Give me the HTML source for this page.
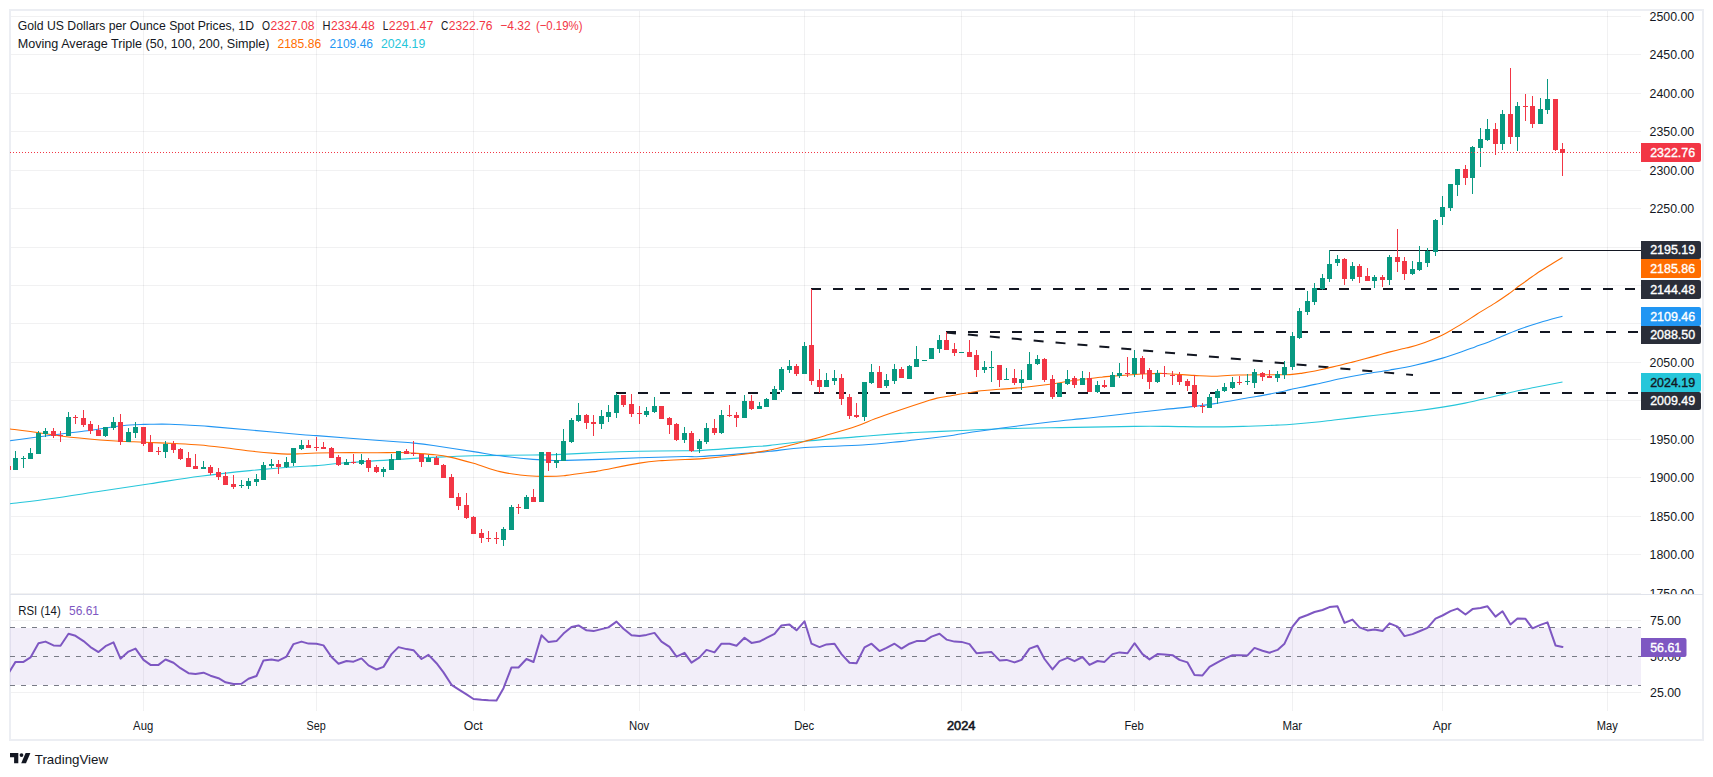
<!DOCTYPE html>
<html><head><meta charset="utf-8"><title>Gold chart</title>
<style>html,body{margin:0;padding:0;background:#fff}svg{display:block}</style></head>
<body>
<svg width="1713" height="777" viewBox="0 0 1713 777" font-family='"Liberation Sans", sans-serif'>
<rect width="1713" height="777" fill="#fff"/>
<rect x="10" y="10" width="1693" height="730" fill="none" stroke="#eceef3" stroke-width="2" shape-rendering="crispEdges"/>
<defs>
<clipPath id="cm"><rect x="10" y="10" width="1631" height="584"/></clipPath>
<clipPath id="cr"><rect x="10" y="595" width="1631" height="116"/></clipPath>
<clipPath id="ca"><rect x="1641" y="10" width="62" height="584"/></clipPath>
</defs>
<path d="M143.5 11V711M316.5 11V711M473.5 11V711M639.5 11V711M804.5 11V711M961.5 11V711M1134.5 11V711M1292.5 11V711M1442.5 11V711M1607.5 11V711" stroke="#2a2e39" stroke-opacity="0.065" stroke-width="1" fill="none" shape-rendering="crispEdges"/>
<path d="M11 16.5H1641M11 54.5H1641M11 93.5H1641M11 131.5H1641M11 170.5H1641M11 208.5H1641M11 247.5H1641M11 285.5H1641M11 323.5H1641M11 362.5H1641M11 400.5H1641M11 439.5H1641M11 477.5H1641M11 516.5H1641M11 554.5H1641M11 593.5H1641M11 620.5H1641M11 692.5H1641" stroke="#2a2e39" stroke-opacity="0.065" stroke-width="1" fill="none" shape-rendering="crispEdges"/>
<rect x="10" y="628" width="1631" height="57" fill="#7e57c2" fill-opacity="0.1"/>
<path d="M10.0 627.5H1641" stroke="#787b86" stroke-width="1" stroke-dasharray="5 6" stroke-dashoffset="0" fill="none"/>
<path d="M10.0 656.5H1641" stroke="#787b86" stroke-width="1" stroke-dasharray="5 6" stroke-dashoffset="0" fill="none"/>
<path d="M10.0 685.5H1641" stroke="#787b86" stroke-width="1" stroke-dasharray="5 6" stroke-dashoffset="0" fill="none"/>
<polyline clip-path="url(#cr)" points="8.5,673.2 15.5,661.9 23.5,661.9 30.5,657.4 38.5,643.2 45.5,641.6 53.5,645.4 60.5,645.7 68.5,633.8 75.5,635.8 83.5,641.1 90.5,647.1 98.5,652.1 105.5,646.2 113.5,642.4 120.5,658.7 128.5,651.6 135.5,648.6 143.5,659.9 150.5,664.9 158.5,664.9 165.5,659.5 173.5,662.7 180.5,668.2 188.5,673.2 195.5,674.0 203.5,672.7 210.5,675.7 218.5,678.2 225.5,682.3 233.5,684.0 241.5,683.7 248.5,678.7 256.5,676.0 263.5,660.4 271.5,659.4 278.5,660.7 286.5,656.6 293.5,644.1 301.5,641.6 308.5,643.6 316.5,643.7 323.5,645.4 331.5,657.0 338.5,663.7 346.5,661.0 353.5,661.7 361.5,658.4 368.5,665.4 376.5,669.5 383.5,666.9 391.5,654.1 398.5,647.1 406.5,649.1 413.5,650.2 421.5,659.0 428.5,654.9 436.5,663.2 443.5,672.4 451.5,684.8 458.5,689.3 466.5,694.3 473.5,699.0 481.5,699.8 488.5,700.3 496.5,700.5 503.5,688.2 511.5,667.4 518.5,667.5 526.5,659.0 533.5,662.0 541.5,635.3 548.5,642.1 556.5,641.1 563.5,633.6 571.5,626.9 578.5,625.4 586.5,630.3 593.5,631.1 601.5,629.1 608.5,627.4 616.5,621.6 623.5,628.8 631.5,635.3 639.5,636.1 646.5,634.9 654.5,632.9 661.5,641.6 669.5,646.9 676.5,656.6 684.5,652.9 691.5,662.7 699.5,657.4 706.5,649.9 714.5,652.4 721.5,643.7 729.5,643.7 736.5,645.7 744.5,637.7 751.5,642.9 759.5,641.6 766.5,637.9 774.5,633.8 781.5,625.4 789.5,624.6 796.5,630.3 804.5,621.3 811.5,643.7 819.5,647.1 826.5,644.4 834.5,643.7 841.5,654.1 849.5,662.7 856.5,663.2 864.5,647.4 871.5,643.7 879.5,651.1 886.5,647.9 894.5,643.7 901.5,648.6 909.5,643.7 916.5,641.1 924.5,641.1 931.5,636.6 939.5,633.8 946.5,639.6 954.5,641.6 961.5,641.9 969.5,644.1 976.5,653.2 984.5,652.4 991.5,652.1 999.5,660.4 1006.5,659.9 1014.5,662.4 1021.5,659.9 1029.5,648.6 1037.5,645.7 1044.5,659.0 1052.5,669.4 1059.5,661.2 1067.5,657.9 1074.5,661.2 1082.5,657.0 1089.5,664.9 1097.5,661.0 1104.5,661.9 1112.5,654.1 1119.5,652.4 1127.5,653.2 1134.5,643.2 1142.5,654.1 1149.5,659.4 1157.5,654.1 1164.5,654.4 1172.5,655.2 1179.5,659.9 1187.5,662.4 1194.5,674.9 1202.5,675.4 1209.5,666.9 1217.5,662.4 1224.5,658.7 1232.5,655.2 1239.5,655.2 1247.5,655.4 1254.5,647.9 1262.5,650.7 1269.5,652.7 1277.5,649.9 1284.5,643.7 1292.5,626.6 1299.5,618.0 1307.5,615.0 1314.5,612.0 1322.5,610.0 1329.5,607.1 1337.5,606.3 1344.5,622.9 1352.5,619.6 1359.5,627.4 1367.5,630.4 1374.5,629.4 1382.5,631.1 1389.5,623.3 1397.5,626.6 1404.5,636.1 1412.5,634.1 1419.5,631.3 1427.5,627.9 1435.5,618.6 1442.5,615.5 1450.5,611.1 1457.5,608.6 1465.5,614.5 1472.5,609.1 1480.5,608.0 1487.5,606.3 1495.5,616.6 1502.5,611.3 1510.5,624.4 1517.5,618.6 1525.5,618.8 1532.5,628.3 1540.5,624.9 1547.5,622.4 1555.5,645.4 1562.5,646.9" fill="none" stroke="#7e57c2" stroke-width="2" stroke-linejoin="round" stroke-linecap="round"/>
<g clip-path="url(#cm)">
<path d="M616 393H1641" stroke="#131722" stroke-width="2" stroke-dasharray="10 12" fill="none"/>
<path d="M811 289H1641" stroke="#131722" stroke-width="2" stroke-dasharray="10 12" fill="none"/>
<path d="M946 332H1641" stroke="#131722" stroke-width="2" stroke-dasharray="10 12" fill="none"/>
<path d="M946 332.5L1413 375" stroke="#131722" stroke-width="2" stroke-dasharray="10 12" fill="none"/>
<path d="M1328.5 250.5H1641" stroke="#131722" stroke-width="1" fill="none" shape-rendering="crispEdges"/>
<path d="M10.0 503.8C16.7 502.92 35.0 500.83 50.0 498.75C65.0 496.67 83.3 493.75 100.0 491.25C116.7 488.75 133.3 486.25 150.0 483.75C166.7 481.25 183.3 478.44 200.0 476.25C216.7 474.06 233.3 472.23 250.0 470.60C266.7 468.98 288.9 467.33 300.0 466.50C311.1 465.67 308.2 466.27 316.5 465.60C324.8 464.93 336.1 463.55 350.0 462.50C363.9 461.45 386.2 460.15 400.0 459.30C413.8 458.45 420.8 457.98 433.0 457.40C445.2 456.82 456.8 456.20 473.5 455.80C490.2 455.40 519.2 455.20 533.0 455.00C546.8 454.80 544.8 455.02 556.0 454.60C567.2 454.18 586.1 453.05 600.0 452.50C613.9 451.95 625.3 451.60 639.5 451.30C653.7 451.00 674.9 450.82 685.0 450.70C695.1 450.58 689.2 451.23 700.0 450.60C710.8 449.97 738.3 447.77 750.0 446.90C761.7 446.03 760.8 446.34 770.0 445.40C779.2 444.46 790.7 442.67 805.0 441.25C819.3 439.83 840.2 438.21 856.0 436.90C871.8 435.59 890.3 434.13 900.0 433.40C909.7 432.67 903.7 432.98 914.0 432.50C924.3 432.02 947.4 431.12 961.8 430.50C976.1 429.88 985.3 429.25 1000.0 428.80C1014.7 428.35 1037.5 428.03 1050.0 427.80C1062.5 427.57 1060.9 427.63 1075.0 427.40C1089.1 427.17 1119.0 426.57 1134.5 426.40C1150.0 426.23 1156.2 426.32 1168.0 426.40C1179.8 426.48 1192.5 426.90 1205.0 426.90C1217.5 426.90 1231.1 426.70 1243.0 426.40C1254.9 426.10 1268.3 425.47 1276.5 425.10C1284.7 424.73 1285.2 424.76 1292.4 424.20C1299.7 423.64 1313.1 422.45 1320.0 421.75C1326.9 421.05 1327.1 420.81 1334.0 420.00C1340.9 419.19 1351.9 417.94 1361.2 416.90C1370.6 415.86 1381.0 414.73 1390.0 413.75C1399.0 412.77 1406.2 412.11 1415.0 411.00C1423.8 409.89 1434.2 408.42 1442.5 407.10C1450.8 405.78 1457.1 404.70 1465.0 403.10C1472.9 401.50 1483.5 399.00 1490.0 397.50C1496.5 396.00 1499.4 395.23 1504.0 394.10C1508.6 392.98 1512.8 391.85 1517.8 390.75C1522.8 389.65 1526.5 388.96 1534.0 387.50C1541.5 386.04 1557.8 382.92 1562.5 382.00" fill="none" stroke="#26c6da" stroke-width="1.1" stroke-linejoin="round"/>
<path d="M10.0 440.8C14.6 440.17 28.8 438.18 37.5 437.00C46.2 435.82 54.2 434.79 62.5 433.75C70.8 432.71 79.2 431.88 87.5 430.75C95.8 429.62 105.4 427.96 112.5 427.00C119.6 426.04 124.8 425.43 130.0 425.00C135.2 424.57 140.2 424.52 143.5 424.40C146.8 424.27 145.6 424.27 150.0 424.25C154.4 424.23 161.7 423.99 170.0 424.25C178.3 424.51 192.7 425.36 200.0 425.80C207.3 426.24 205.7 426.20 214.0 426.90C222.3 427.60 235.7 428.73 250.0 430.00C264.3 431.27 288.9 433.57 300.0 434.50C311.1 435.43 308.2 434.98 316.5 435.60C324.8 436.23 336.1 437.18 350.0 438.25C363.9 439.32 389.3 441.19 400.0 442.00C410.7 442.81 408.4 442.52 414.0 443.10C419.6 443.68 423.4 444.08 433.3 445.50C443.2 446.92 462.4 449.88 473.5 451.60C484.6 453.32 490.1 454.50 500.0 455.80C509.9 457.10 523.7 458.62 533.0 459.40C542.3 460.18 550.4 460.33 556.0 460.50C561.6 460.67 559.1 460.58 566.4 460.40C573.7 460.22 587.8 459.83 600.0 459.40C612.2 458.97 625.3 458.28 639.5 457.80C653.7 457.32 674.9 456.72 685.0 456.50C695.1 456.28 689.2 457.07 700.0 456.50C710.8 455.93 738.3 453.98 750.0 453.10C761.7 452.23 760.8 452.18 770.0 451.25C779.2 450.32 789.6 448.54 805.0 447.50C820.4 446.46 846.7 445.98 862.5 445.00C878.3 444.02 891.4 442.43 900.0 441.60C908.6 440.77 905.7 440.98 914.0 440.00C922.3 439.02 942.0 436.79 950.0 435.75C958.0 434.71 953.4 434.99 961.8 433.75C970.1 432.51 985.3 430.26 1000.0 428.30C1014.7 426.34 1036.7 423.57 1050.0 422.00C1063.3 420.43 1071.7 419.77 1080.0 418.90C1088.3 418.02 1090.9 417.77 1100.0 416.75C1109.1 415.73 1123.8 414.01 1134.5 412.80C1145.2 411.59 1154.0 410.57 1164.0 409.50C1174.0 408.43 1185.8 407.38 1194.3 406.40C1202.8 405.42 1205.5 405.08 1214.8 403.60C1224.1 402.12 1242.2 398.83 1250.0 397.50C1257.8 396.17 1255.8 396.64 1261.5 395.60C1267.2 394.56 1279.2 392.25 1284.0 391.25C1288.8 390.25 1284.8 390.74 1290.0 389.60C1295.2 388.46 1306.7 386.21 1315.0 384.40C1323.3 382.59 1331.7 380.48 1340.0 378.75C1348.3 377.02 1356.7 375.46 1365.0 374.00C1373.3 372.54 1381.7 371.46 1390.0 370.00C1398.3 368.54 1406.2 367.23 1415.0 365.25C1423.8 363.27 1434.2 360.54 1442.5 358.10C1450.8 355.66 1459.6 352.47 1465.0 350.60C1470.4 348.73 1470.0 348.77 1475.0 346.90C1480.0 345.03 1487.9 342.22 1495.0 339.40C1502.1 336.58 1510.0 332.82 1517.5 330.00C1525.0 327.18 1532.5 324.79 1540.0 322.50C1547.5 320.21 1558.8 317.29 1562.5 316.25" fill="none" stroke="#2196f3" stroke-width="1.1" stroke-linejoin="round"/>
<path d="M10.0 429.0C14.6 429.58 28.8 431.29 37.5 432.50C46.2 433.71 52.1 435.00 62.5 436.25C72.9 437.50 90.4 439.17 100.0 440.00C109.6 440.83 112.8 440.88 120.0 441.25C127.2 441.62 134.3 441.82 143.5 442.20C152.7 442.57 165.6 443.03 175.0 443.50C184.4 443.97 191.7 444.28 200.0 445.00C208.3 445.72 216.7 446.80 225.0 447.80C233.3 448.80 241.7 450.07 250.0 451.00C258.3 451.93 268.8 452.88 275.0 453.40C281.2 453.92 283.3 454.03 287.5 454.10C291.7 454.17 295.2 453.98 300.0 453.80C304.8 453.62 308.2 453.20 316.5 453.00C324.8 452.80 340.2 452.63 350.0 452.60C359.8 452.57 366.7 452.82 375.0 452.80C383.3 452.78 393.5 452.45 400.0 452.50C406.5 452.55 408.5 452.75 414.0 453.10C419.5 453.45 427.0 453.93 433.0 454.60C439.0 455.27 443.2 455.65 450.0 457.10C456.8 458.55 465.2 460.88 473.5 463.30C481.8 465.72 492.2 469.65 500.0 471.60C507.8 473.55 513.9 474.23 520.0 475.00C526.1 475.77 530.3 476.04 536.4 476.25C542.5 476.46 551.4 476.39 556.4 476.25C561.4 476.11 560.4 476.12 566.4 475.40C572.4 474.67 586.6 472.67 592.2 471.90C597.9 471.12 592.1 472.22 600.0 470.75C607.9 469.28 629.2 464.79 639.5 463.10C649.8 461.41 654.4 461.20 662.0 460.60C669.6 460.00 678.7 459.78 685.0 459.50C691.3 459.22 691.2 459.65 700.0 458.90C708.8 458.15 725.8 456.48 737.5 455.00C749.2 453.52 761.2 451.62 770.0 450.00C778.8 448.38 784.2 446.76 790.0 445.30C795.8 443.84 799.2 442.85 805.0 441.25C810.8 439.65 816.5 438.20 825.0 435.70C833.5 433.20 847.9 429.07 856.2 426.25C864.6 423.43 867.7 421.46 875.0 418.75C882.3 416.04 891.7 412.83 900.0 410.00C908.3 407.17 918.8 403.73 925.0 401.75C931.2 399.77 932.8 399.06 937.0 398.10C941.2 397.14 945.9 396.72 950.0 396.00C954.1 395.28 957.5 394.51 961.7 393.80C965.9 393.09 971.8 392.26 975.0 391.75C978.2 391.24 976.8 391.16 981.0 390.75C985.2 390.34 992.7 389.89 1000.0 389.30C1007.3 388.71 1016.7 388.05 1025.0 387.20C1033.3 386.35 1041.7 385.35 1050.0 384.20C1058.3 383.05 1066.7 381.45 1075.0 380.30C1083.3 379.15 1094.8 377.92 1100.0 377.30C1105.2 376.68 1100.2 377.07 1106.0 376.60C1111.8 376.13 1127.4 374.98 1134.8 374.50C1142.1 374.02 1145.1 373.92 1150.0 373.75C1154.9 373.58 1156.7 373.23 1164.0 373.50C1171.3 373.77 1185.7 374.94 1193.8 375.40C1201.8 375.86 1205.2 376.32 1212.5 376.25C1219.8 376.18 1227.1 375.25 1237.5 375.00C1247.9 374.75 1266.2 374.82 1275.0 374.75C1283.8 374.68 1285.4 374.88 1290.0 374.60C1294.6 374.33 1298.3 373.70 1302.5 373.10C1306.7 372.50 1310.8 371.83 1315.0 371.00C1319.2 370.17 1323.3 369.06 1327.5 368.10C1331.7 367.14 1335.8 366.25 1340.0 365.25C1344.2 364.25 1348.3 363.18 1352.5 362.10C1356.7 361.02 1360.8 359.87 1365.0 358.75C1369.2 357.63 1373.3 356.54 1377.5 355.40C1381.7 354.26 1385.8 353.01 1390.0 351.90C1394.2 350.79 1399.2 349.55 1402.5 348.75C1405.8 347.95 1406.9 347.93 1410.0 347.10C1413.1 346.27 1417.7 344.93 1421.2 343.75C1424.8 342.57 1427.7 341.46 1431.2 340.00C1434.8 338.54 1439.0 336.77 1442.5 335.00C1446.0 333.23 1448.8 331.58 1452.5 329.40C1456.2 327.22 1460.8 324.51 1465.0 321.90C1469.2 319.29 1472.5 316.88 1477.5 313.75C1482.5 310.62 1489.8 306.43 1495.0 303.10C1500.2 299.77 1505.2 296.25 1508.8 293.75C1512.3 291.25 1513.1 290.39 1516.2 288.10C1519.4 285.81 1523.5 282.81 1527.5 280.00C1531.5 277.19 1535.8 274.00 1540.0 271.25C1544.2 268.50 1548.8 265.79 1552.5 263.50C1556.2 261.21 1560.8 258.50 1562.5 257.50" fill="none" stroke="#ff6d00" stroke-width="1.1" stroke-linejoin="round"/>
<path d="M13.0 458h5V470h-5zM21.0 458h5V459h-5zM28.0 453h5V459h-5zM36.0 433h5V454h-5zM43.0 431h5V434h-5zM66.0 417h5V436h-5zM103.0 427h5V436h-5zM111.0 422h5V428h-5zM126.0 432h5V442h-5zM133.0 427h5V433h-5zM163.0 444h5V452h-5zM201.0 467h5V469h-5zM239.0 485h5V486h-5zM246.0 481h5V486h-5zM254.0 479h5V482h-5zM261.0 465h5V480h-5zM269.0 464h5V466h-5zM284.0 462h5V467h-5zM291.0 448h5V463h-5zM299.0 445h5V449h-5zM344.0 462h5V465h-5zM359.0 460h5V464h-5zM381.0 469h5V472h-5zM389.0 459h5V470h-5zM396.0 451h5V460h-5zM426.0 458h5V462h-5zM501.0 529h5V540h-5zM509.0 507h5V530h-5zM524.0 497h5V509h-5zM539.0 452h5V502h-5zM554.0 460h5V463h-5zM561.0 441h5V461h-5zM569.0 420h5V442h-5zM576.0 415h5V421h-5zM599.0 416h5V424h-5zM606.0 412h5V417h-5zM614.0 395h5V413h-5zM644.0 411h5V415h-5zM652.0 406h5V412h-5zM682.0 433h5V440h-5zM697.0 441h5V449h-5zM704.0 428h5V442h-5zM719.0 415h5V433h-5zM742.0 401h5V418h-5zM757.0 406h5V409h-5zM764.0 399h5V407h-5zM772.0 389h5V400h-5zM779.0 369h5V390h-5zM787.0 366h5V370h-5zM802.0 346h5V374h-5zM824.0 380h5V387h-5zM832.0 378h5V381h-5zM862.0 382h5V417h-5zM869.0 372h5V383h-5zM884.0 380h5V386h-5zM892.0 369h5V381h-5zM907.0 366h5V379h-5zM914.0 359h5V367h-5zM922.0 360h5V361h-5zM929.0 348h5V359h-5zM937.0 340h5V349h-5zM959.0 352h5V353h-5zM982.0 367h5V370h-5zM989.0 367h5V368h-5zM1004.0 379h5V380h-5zM1019.0 379h5V383h-5zM1027.0 364h5V380h-5zM1035.0 359h5V364h-5zM1057.0 383h5V397h-5zM1065.0 379h5V384h-5zM1080.0 378h5V385h-5zM1095.0 385h5V392h-5zM1110.0 375h5V387h-5zM1117.0 373h5V376h-5zM1132.0 358h5V374h-5zM1155.0 373h5V382h-5zM1207.0 397h5V408h-5zM1215.0 391h5V398h-5zM1222.0 387h5V391h-5zM1230.0 382h5V388h-5zM1245.0 381h5V382h-5zM1252.0 372h5V383h-5zM1275.0 374h5V378h-5zM1282.0 367h5V375h-5zM1290.0 336h5V367h-5zM1297.0 311h5V338h-5zM1305.0 301h5V312h-5zM1312.0 288h5V302h-5zM1320.0 278h5V289h-5zM1327.0 264h5V279h-5zM1335.0 259h5V263h-5zM1350.0 266h5V279h-5zM1372.0 277h5V281h-5zM1387.0 257h5V280h-5zM1410.0 269h5V274h-5zM1417.0 262h5V270h-5zM1425.0 251h5V263h-5zM1433.0 220h5V252h-5zM1440.0 207h5V217h-5zM1448.0 184h5V208h-5zM1455.0 169h5V185h-5zM1470.0 147h5V178h-5zM1478.0 139h5V148h-5zM1485.0 129h5V140h-5zM1500.0 114h5V144h-5zM1515.0 106h5V137h-5zM1538.0 109h5V124h-5zM1545.0 99h5V110h-5zM15.0 451h1V458h-1zM23.0 456h1V458h-1zM23.0 459h1V468h-1zM30.0 448h1V453h-1zM38.0 431h1V433h-1zM45.0 428h1V431h-1zM45.0 434h1V437h-1zM68.0 412h1V417h-1zM105.0 436h1V437h-1zM113.0 417h1V422h-1zM113.0 428h1V430h-1zM128.0 428h1V432h-1zM135.0 422h1V427h-1zM135.0 433h1V438h-1zM165.0 441h1V444h-1zM165.0 452h1V458h-1zM203.0 461h1V467h-1zM241.0 480h1V485h-1zM241.0 486h1V488h-1zM248.0 478h1V481h-1zM248.0 486h1V489h-1zM256.0 474h1V479h-1zM256.0 482h1V486h-1zM263.0 462h1V465h-1zM271.0 459h1V464h-1zM271.0 466h1V468h-1zM286.0 457h1V462h-1zM286.0 467h1V468h-1zM293.0 463h1V466h-1zM301.0 440h1V445h-1zM301.0 449h1V450h-1zM346.0 459h1V462h-1zM361.0 454h1V460h-1zM361.0 464h1V465h-1zM383.0 467h1V469h-1zM383.0 472h1V477h-1zM391.0 454h1V459h-1zM428.0 455h1V458h-1zM503.0 527h1V529h-1zM503.0 540h1V546h-1zM511.0 505h1V507h-1zM526.0 495h1V497h-1zM556.0 453h1V460h-1zM556.0 463h1V468h-1zM563.0 429h1V441h-1zM571.0 418h1V420h-1zM571.0 442h1V443h-1zM578.0 403h1V415h-1zM578.0 421h1V422h-1zM601.0 410h1V416h-1zM601.0 424h1V429h-1zM608.0 405h1V412h-1zM608.0 417h1V422h-1zM616.0 393h1V395h-1zM616.0 413h1V418h-1zM646.0 407h1V411h-1zM646.0 415h1V417h-1zM654.0 397h1V406h-1zM654.0 412h1V413h-1zM684.0 427h1V433h-1zM684.0 440h1V443h-1zM699.0 439h1V441h-1zM699.0 449h1V453h-1zM706.0 423h1V428h-1zM706.0 442h1V444h-1zM721.0 410h1V415h-1zM721.0 433h1V434h-1zM744.0 395h1V401h-1zM759.0 402h1V406h-1zM766.0 398h1V399h-1zM774.0 386h1V389h-1zM781.0 367h1V369h-1zM781.0 390h1V392h-1zM789.0 360h1V366h-1zM789.0 370h1V373h-1zM804.0 342h1V346h-1zM826.0 373h1V380h-1zM834.0 370h1V378h-1zM834.0 381h1V385h-1zM864.0 417h1V421h-1zM871.0 364h1V372h-1zM871.0 383h1V384h-1zM886.0 374h1V380h-1zM886.0 386h1V388h-1zM894.0 364h1V369h-1zM894.0 381h1V384h-1zM909.0 365h1V366h-1zM916.0 346h1V359h-1zM939.0 335h1V340h-1zM939.0 349h1V353h-1zM984.0 361h1V367h-1zM984.0 370h1V373h-1zM991.0 351h1V367h-1zM991.0 368h1V382h-1zM1006.0 368h1V379h-1zM1021.0 370h1V379h-1zM1021.0 383h1V390h-1zM1029.0 352h1V364h-1zM1037.0 355h1V359h-1zM1037.0 364h1V365h-1zM1067.0 370h1V379h-1zM1067.0 384h1V385h-1zM1082.0 371h1V378h-1zM1097.0 381h1V385h-1zM1097.0 392h1V393h-1zM1112.0 372h1V375h-1zM1119.0 363h1V373h-1zM1119.0 376h1V378h-1zM1134.0 350h1V358h-1zM1134.0 374h1V377h-1zM1157.0 370h1V373h-1zM1157.0 382h1V383h-1zM1209.0 394h1V397h-1zM1217.0 389h1V391h-1zM1217.0 398h1V404h-1zM1224.0 383h1V387h-1zM1224.0 391h1V392h-1zM1232.0 377h1V382h-1zM1232.0 388h1V389h-1zM1247.0 374h1V381h-1zM1247.0 382h1V385h-1zM1254.0 369h1V372h-1zM1254.0 383h1V388h-1zM1277.0 371h1V374h-1zM1277.0 378h1V382h-1zM1284.0 361h1V367h-1zM1284.0 375h1V379h-1zM1292.0 332h1V336h-1zM1292.0 367h1V370h-1zM1299.0 308h1V311h-1zM1299.0 338h1V339h-1zM1307.0 291h1V301h-1zM1307.0 312h1V315h-1zM1314.0 283h1V288h-1zM1314.0 302h1V305h-1zM1322.0 274h1V278h-1zM1322.0 289h1V290h-1zM1329.0 250h1V264h-1zM1329.0 279h1V282h-1zM1337.0 255h1V259h-1zM1337.0 263h1V266h-1zM1352.0 262h1V266h-1zM1352.0 279h1V281h-1zM1374.0 275h1V277h-1zM1374.0 281h1V288h-1zM1389.0 255h1V257h-1zM1389.0 280h1V285h-1zM1412.0 261h1V269h-1zM1412.0 274h1V275h-1zM1419.0 246h1V262h-1zM1419.0 270h1V271h-1zM1427.0 248h1V251h-1zM1427.0 263h1V267h-1zM1435.0 219h1V220h-1zM1435.0 252h1V256h-1zM1442.0 196h1V207h-1zM1442.0 217h1V225h-1zM1450.0 208h1V211h-1zM1457.0 185h1V196h-1zM1472.0 146h1V147h-1zM1472.0 178h1V194h-1zM1480.0 128h1V139h-1zM1480.0 148h1V167h-1zM1487.0 119h1V129h-1zM1487.0 140h1V141h-1zM1502.0 110h1V114h-1zM1502.0 144h1V150h-1zM1517.0 102h1V106h-1zM1517.0 137h1V151h-1zM1540.0 98h1V109h-1zM1547.0 79h1V99h-1zM1547.0 110h1V114h-1z" fill="#089981" shape-rendering="crispEdges"/>
<path d="M6.0 466h5V470h-5zM51.0 431h5V436h-5zM58.0 435h5V436h-5zM73.0 417h5V418h-5zM81.0 418h5V425h-5zM88.0 424h5V431h-5zM96.0 430h5V436h-5zM118.0 422h5V442h-5zM141.0 427h5V444h-5zM148.0 443h5V452h-5zM156.0 451h5V452h-5zM171.0 444h5V450h-5zM178.0 449h5V459h-5zM186.0 458h5V467h-5zM193.0 466h5V469h-5zM208.0 467h5V473h-5zM216.0 472h5V477h-5zM223.0 476h5V485h-5zM231.0 484h5V487h-5zM276.0 464h5V467h-5zM306.0 445h5V448h-5zM314.0 447h5V448h-5zM321.0 447h5V449h-5zM329.0 448h5V458h-5zM336.0 457h5V465h-5zM351.0 462h5V463h-5zM366.0 460h5V468h-5zM374.0 467h5V472h-5zM404.0 451h5V454h-5zM411.0 453h5V454h-5zM419.0 454h5V462h-5zM434.0 458h5V465h-5zM441.0 465h5V478h-5zM449.0 477h5V498h-5zM456.0 497h5V506h-5zM464.0 505h5V518h-5zM471.0 517h5V534h-5zM479.0 533h5V538h-5zM486.0 538h5V539h-5zM494.0 538h5V539h-5zM516.0 507h5V508h-5zM531.0 497h5V502h-5zM546.0 452h5V463h-5zM584.0 415h5V423h-5zM591.0 422h5V424h-5zM621.0 395h5V405h-5zM629.0 404h5V414h-5zM637.0 413h5V414h-5zM659.0 406h5V419h-5zM667.0 418h5V425h-5zM674.0 424h5V440h-5zM689.0 433h5V451h-5zM712.0 428h5V433h-5zM727.0 415h5V416h-5zM734.0 415h5V418h-5zM749.0 401h5V409h-5zM794.0 366h5V374h-5zM809.0 345h5V381h-5zM817.0 380h5V387h-5zM839.0 378h5V399h-5zM847.0 397h5V416h-5zM854.0 415h5V417h-5zM877.0 372h5V388h-5zM899.0 369h5V378h-5zM944.0 340h5V350h-5zM952.0 349h5V353h-5zM967.0 352h5V357h-5zM974.0 355h5V370h-5zM997.0 365h5V380h-5zM1012.0 378h5V383h-5zM1042.0 359h5V380h-5zM1050.0 379h5V397h-5zM1072.0 378h5V385h-5zM1087.0 378h5V392h-5zM1102.0 385h5V387h-5zM1125.0 373h5V374h-5zM1140.0 358h5V374h-5zM1147.0 370h5V382h-5zM1162.0 373h5V374h-5zM1170.0 375h5V376h-5zM1177.0 375h5V382h-5zM1185.0 381h5V386h-5zM1192.0 385h5V407h-5zM1200.0 406h5V407h-5zM1237.0 382h5V383h-5zM1260.0 373h5V377h-5zM1267.0 376h5V378h-5zM1342.0 259h5V279h-5zM1357.0 266h5V277h-5zM1365.0 276h5V281h-5zM1380.0 277h5V280h-5zM1395.0 257h5V262h-5zM1402.0 261h5V274h-5zM1463.0 169h5V178h-5zM1493.0 129h5V144h-5zM1508.0 114h5V137h-5zM1523.0 106h5V107h-5zM1530.0 106h5V124h-5zM1553.0 99h5V150h-5zM1560.0 149h5V153h-5zM53.0 428h1V431h-1zM53.0 436h1V438h-1zM60.0 431h1V435h-1zM60.0 436h1V442h-1zM75.0 415h1V417h-1zM75.0 418h1V424h-1zM83.0 410h1V418h-1zM83.0 425h1V427h-1zM90.0 421h1V424h-1zM90.0 431h1V434h-1zM98.0 425h1V430h-1zM120.0 414h1V422h-1zM120.0 442h1V445h-1zM143.0 444h1V446h-1zM150.0 435h1V443h-1zM158.0 447h1V451h-1zM158.0 452h1V455h-1zM173.0 441h1V444h-1zM173.0 450h1V453h-1zM180.0 448h1V449h-1zM180.0 459h1V460h-1zM188.0 452h1V458h-1zM195.0 454h1V466h-1zM210.0 465h1V467h-1zM210.0 473h1V475h-1zM218.0 468h1V472h-1zM218.0 477h1V480h-1zM225.0 472h1V476h-1zM233.0 475h1V484h-1zM233.0 487h1V489h-1zM278.0 460h1V464h-1zM278.0 467h1V474h-1zM308.0 440h1V445h-1zM316.0 437h1V447h-1zM316.0 448h1V451h-1zM323.0 442h1V447h-1zM331.0 447h1V448h-1zM338.0 455h1V457h-1zM338.0 465h1V466h-1zM353.0 454h1V462h-1zM353.0 463h1V464h-1zM368.0 458h1V460h-1zM368.0 468h1V472h-1zM376.0 465h1V467h-1zM376.0 472h1V473h-1zM406.0 449h1V451h-1zM413.0 441h1V453h-1zM413.0 454h1V456h-1zM421.0 462h1V467h-1zM436.0 456h1V458h-1zM443.0 464h1V465h-1zM451.0 474h1V477h-1zM458.0 493h1V497h-1zM458.0 506h1V510h-1zM466.0 493h1V505h-1zM466.0 518h1V519h-1zM473.0 516h1V517h-1zM481.0 529h1V533h-1zM481.0 538h1V543h-1zM488.0 531h1V538h-1zM488.0 539h1V542h-1zM496.0 532h1V538h-1zM496.0 539h1V544h-1zM518.0 504h1V507h-1zM518.0 508h1V514h-1zM533.0 489h1V497h-1zM548.0 463h1V471h-1zM586.0 414h1V415h-1zM586.0 423h1V429h-1zM593.0 415h1V422h-1zM593.0 424h1V436h-1zM623.0 405h1V407h-1zM631.0 394h1V404h-1zM631.0 414h1V417h-1zM639.0 406h1V413h-1zM639.0 414h1V424h-1zM669.0 417h1V418h-1zM669.0 425h1V434h-1zM676.0 423h1V424h-1zM676.0 440h1V441h-1zM691.0 431h1V433h-1zM691.0 451h1V452h-1zM714.0 419h1V428h-1zM714.0 433h1V435h-1zM729.0 405h1V415h-1zM729.0 416h1V417h-1zM736.0 412h1V415h-1zM736.0 418h1V427h-1zM751.0 395h1V401h-1zM751.0 409h1V410h-1zM796.0 364h1V366h-1zM796.0 374h1V376h-1zM811.0 289h1V345h-1zM811.0 381h1V385h-1zM819.0 369h1V380h-1zM819.0 387h1V393h-1zM841.0 374h1V378h-1zM841.0 399h1V405h-1zM849.0 394h1V397h-1zM849.0 416h1V419h-1zM856.0 403h1V415h-1zM856.0 417h1V418h-1zM879.0 366h1V372h-1zM901.0 367h1V369h-1zM946.0 332h1V340h-1zM954.0 343h1V349h-1zM954.0 353h1V356h-1zM969.0 340h1V352h-1zM976.0 350h1V355h-1zM976.0 370h1V377h-1zM999.0 380h1V387h-1zM1014.0 369h1V378h-1zM1014.0 383h1V385h-1zM1044.0 358h1V359h-1zM1044.0 380h1V382h-1zM1052.0 375h1V379h-1zM1052.0 397h1V399h-1zM1074.0 376h1V378h-1zM1074.0 385h1V388h-1zM1089.0 372h1V378h-1zM1104.0 380h1V385h-1zM1104.0 387h1V388h-1zM1127.0 357h1V373h-1zM1127.0 374h1V377h-1zM1142.0 356h1V358h-1zM1142.0 374h1V379h-1zM1149.0 368h1V370h-1zM1149.0 382h1V389h-1zM1164.0 366h1V373h-1zM1164.0 374h1V377h-1zM1172.0 371h1V375h-1zM1172.0 376h1V385h-1zM1179.0 372h1V375h-1zM1179.0 382h1V385h-1zM1187.0 379h1V381h-1zM1187.0 386h1V391h-1zM1194.0 375h1V385h-1zM1194.0 407h1V408h-1zM1202.0 403h1V406h-1zM1202.0 407h1V413h-1zM1239.0 376h1V382h-1zM1239.0 383h1V385h-1zM1262.0 372h1V373h-1zM1262.0 377h1V381h-1zM1269.0 370h1V376h-1zM1344.0 258h1V259h-1zM1344.0 279h1V285h-1zM1359.0 264h1V266h-1zM1359.0 277h1V283h-1zM1367.0 268h1V276h-1zM1382.0 275h1V277h-1zM1382.0 280h1V287h-1zM1397.0 229h1V257h-1zM1397.0 262h1V272h-1zM1404.0 257h1V261h-1zM1404.0 274h1V280h-1zM1465.0 165h1V169h-1zM1465.0 178h1V185h-1zM1495.0 123h1V129h-1zM1495.0 144h1V155h-1zM1510.0 68h1V114h-1zM1510.0 137h1V144h-1zM1525.0 94h1V106h-1zM1525.0 107h1V121h-1zM1532.0 96h1V106h-1zM1532.0 124h1V128h-1zM1555.0 150h1V151h-1zM1562.0 143h1V149h-1zM1562.0 153h1V176h-1z" fill="#f23645" shape-rendering="crispEdges"/>
<path d="M10 152.5H1641" stroke="#f23645" stroke-width="1" stroke-dasharray="1 2" fill="none" shape-rendering="crispEdges"/>
</g>
<g font-size="12" fill="#131722" clip-path="url(#ca)">
<text x="1649.5" y="20.5" textLength="44.7" lengthAdjust="spacingAndGlyphs">2500.00</text>
<text x="1649.5" y="58.5" textLength="44.7" lengthAdjust="spacingAndGlyphs">2450.00</text>
<text x="1649.5" y="97.5" textLength="44.7" lengthAdjust="spacingAndGlyphs">2400.00</text>
<text x="1649.5" y="135.5" textLength="44.7" lengthAdjust="spacingAndGlyphs">2350.00</text>
<text x="1649.5" y="174.5" textLength="44.7" lengthAdjust="spacingAndGlyphs">2300.00</text>
<text x="1649.5" y="212.5" textLength="44.7" lengthAdjust="spacingAndGlyphs">2250.00</text>
<text x="1649.5" y="251.5" textLength="44.7" lengthAdjust="spacingAndGlyphs">2200.00</text>
<text x="1649.5" y="289.5" textLength="44.7" lengthAdjust="spacingAndGlyphs">2150.00</text>
<text x="1649.5" y="327.5" textLength="44.7" lengthAdjust="spacingAndGlyphs">2100.00</text>
<text x="1649.5" y="366.5" textLength="44.7" lengthAdjust="spacingAndGlyphs">2050.00</text>
<text x="1649.5" y="404.5" textLength="44.7" lengthAdjust="spacingAndGlyphs">2000.00</text>
<text x="1649.5" y="443.5" textLength="44.7" lengthAdjust="spacingAndGlyphs">1950.00</text>
<text x="1649.5" y="481.5" textLength="44.7" lengthAdjust="spacingAndGlyphs">1900.00</text>
<text x="1649.5" y="520.5" textLength="44.7" lengthAdjust="spacingAndGlyphs">1850.00</text>
<text x="1649.5" y="558.5" textLength="44.7" lengthAdjust="spacingAndGlyphs">1800.00</text>
<text x="1649.5" y="598.0" textLength="44.7" lengthAdjust="spacingAndGlyphs">1750.00</text>
</g>
<g font-size="12" fill="#131722">
<text x="1650" y="625.0" textLength="31" lengthAdjust="spacingAndGlyphs">75.00</text>
<text x="1650" y="660.8" textLength="31" lengthAdjust="spacingAndGlyphs">50.00</text>
<text x="1650" y="696.6" textLength="31" lengthAdjust="spacingAndGlyphs">25.00</text>
<text x="133.1" y="730" textLength="20.1" lengthAdjust="spacingAndGlyphs">Aug</text>
<text x="306.6" y="730" textLength="19.2" lengthAdjust="spacingAndGlyphs">Sep</text>
<text x="463.7" y="730" textLength="19.0" lengthAdjust="spacingAndGlyphs">Oct</text>
<text x="629.1" y="730" textLength="20.2" lengthAdjust="spacingAndGlyphs">Nov</text>
<text x="794.2" y="730" textLength="20.0" lengthAdjust="spacingAndGlyphs">Dec</text>
<text x="947.0" y="730" textLength="28.4" lengthAdjust="spacingAndGlyphs" stroke="#131722" stroke-width="0.6">2024</text>
<text x="1124.5" y="730" textLength="19.3" lengthAdjust="spacingAndGlyphs">Feb</text>
<text x="1282.4" y="730" textLength="19.7" lengthAdjust="spacingAndGlyphs">Mar</text>
<text x="1432.8" y="730" textLength="18.8" lengthAdjust="spacingAndGlyphs">Apr</text>
<text x="1596.8" y="730" textLength="20.9" lengthAdjust="spacingAndGlyphs">May</text>
</g>
<path d="M1641 143H1699a2 2 0 0 1 2 2V160a2 2 0 0 1 -2 2H1641z" fill="#f23645"/>
<text x="1650.2" y="156.85" font-size="12" fill="#fff" stroke="#fff" stroke-width="0.35" textLength="45" lengthAdjust="spacingAndGlyphs">2322.76</text>
<path d="M1641 241H1699a2 2 0 0 1 2 2V257a2 2 0 0 1 -2 2H1641z" fill="#2a2e39"/>
<text x="1650.2" y="254.35" font-size="12" fill="#fff" stroke="#fff" stroke-width="0.35" textLength="45" lengthAdjust="spacingAndGlyphs">2195.19</text>
<path d="M1641 259H1699a2 2 0 0 1 2 2V276a2 2 0 0 1 -2 2H1641z" fill="#ff6d00"/>
<text x="1650.2" y="272.85" font-size="12" fill="#fff" stroke="#fff" stroke-width="0.35" textLength="45" lengthAdjust="spacingAndGlyphs">2185.86</text>
<path d="M1641 280H1699a2 2 0 0 1 2 2V297a2 2 0 0 1 -2 2H1641z" fill="#2a2e39"/>
<text x="1650.2" y="293.85" font-size="12" fill="#fff" stroke="#fff" stroke-width="0.35" textLength="45" lengthAdjust="spacingAndGlyphs">2144.48</text>
<path d="M1641 307H1699a2 2 0 0 1 2 2V324a2 2 0 0 1 -2 2H1641z" fill="#2196f3"/>
<text x="1650.2" y="320.85" font-size="12" fill="#fff" stroke="#fff" stroke-width="0.35" textLength="45" lengthAdjust="spacingAndGlyphs">2109.46</text>
<path d="M1641 326H1699a2 2 0 0 1 2 2V342a2 2 0 0 1 -2 2H1641z" fill="#2a2e39"/>
<text x="1650.2" y="339.35" font-size="12" fill="#fff" stroke="#fff" stroke-width="0.35" textLength="45" lengthAdjust="spacingAndGlyphs">2088.50</text>
<path d="M1641 373H1699a2 2 0 0 1 2 2V390a2 2 0 0 1 -2 2H1641z" fill="#26c6da"/>
<text x="1650.2" y="386.85" font-size="12" fill="#131722" stroke="#131722" stroke-width="0.35" textLength="45" lengthAdjust="spacingAndGlyphs">2024.19</text>
<path d="M1641 392H1699a2 2 0 0 1 2 2V408a2 2 0 0 1 -2 2H1641z" fill="#2a2e39"/>
<text x="1650.2" y="405.35" font-size="12" fill="#fff" stroke="#fff" stroke-width="0.35" textLength="45" lengthAdjust="spacingAndGlyphs">2009.49</text>
<path d="M1641 638H1684.5a2 2 0 0 1 2 2V655a2 2 0 0 1 -2 2H1641z" fill="#7e57c2"/>
<text x="1650.2" y="651.85" font-size="12" fill="#fff" stroke="#fff" stroke-width="0.35" textLength="31" lengthAdjust="spacingAndGlyphs">56.61</text>
<path d="M10 594.5H1703" stroke="#e0e3eb" stroke-width="1" fill="none" shape-rendering="crispEdges"/>
<g font-size="12.7" fill="#131722">
<text x="17.8" y="30.3" textLength="236.2" lengthAdjust="spacingAndGlyphs">Gold US Dollars per Ounce Spot Prices, 1D</text>
<text x="262" y="30.3" textLength="8.0" lengthAdjust="spacingAndGlyphs">O</text>
<text x="270.6" y="30.3" textLength="43.9" lengthAdjust="spacingAndGlyphs" fill="#f23645">2327.08</text>
<text x="322.6" y="30.3" textLength="8.0" lengthAdjust="spacingAndGlyphs">H</text>
<text x="331" y="30.3" textLength="43.8" lengthAdjust="spacingAndGlyphs" fill="#f23645">2334.48</text>
<text x="382.8" y="30.3" textLength="5.6" lengthAdjust="spacingAndGlyphs">L</text>
<text x="388.8" y="30.3" textLength="44.5" lengthAdjust="spacingAndGlyphs" fill="#f23645">2291.47</text>
<text x="441" y="30.3" textLength="7.3" lengthAdjust="spacingAndGlyphs">C</text>
<text x="448.7" y="30.3" textLength="43.8" lengthAdjust="spacingAndGlyphs" fill="#f23645">2322.76</text>
<text x="500.2" y="30.3" textLength="30.4" lengthAdjust="spacingAndGlyphs" fill="#f23645">−4.32</text>
<text x="535.9" y="30.3" textLength="46.6" lengthAdjust="spacingAndGlyphs" fill="#f23645">(−0.19%)</text>
<text x="17.8" y="48.3" textLength="251.6" lengthAdjust="spacingAndGlyphs">Moving Average Triple (50, 100, 200, Simple)</text>
<text x="277.4" y="48.3" textLength="43.8" lengthAdjust="spacingAndGlyphs" fill="#ff6d00">2185.86</text>
<text x="329.6" y="48.3" textLength="43.4" lengthAdjust="spacingAndGlyphs" fill="#2196f3">2109.46</text>
<text x="381" y="48.3" textLength="44.2" lengthAdjust="spacingAndGlyphs" fill="#26c6da">2024.19</text>
<text x="18.3" y="615.3" textLength="42.4" lengthAdjust="spacingAndGlyphs">RSI (14)</text>
<text x="69" y="615.3" textLength="30.0" lengthAdjust="spacingAndGlyphs" fill="#7e57c2">56.61</text>
</g>
<g fill="#131722">
<path d="M10 753h8.3v10.3h-4.2v-6.1H10z"/>
<circle cx="21.5" cy="755.1" r="1.9"/>
<path d="M25.6 753h4.8l-4.4 10.3h-4.8z"/>
<text x="34.8" y="763.5" font-size="13.2" textLength="73.3" lengthAdjust="spacingAndGlyphs">TradingView</text>
</g>
</svg>
</body></html>
